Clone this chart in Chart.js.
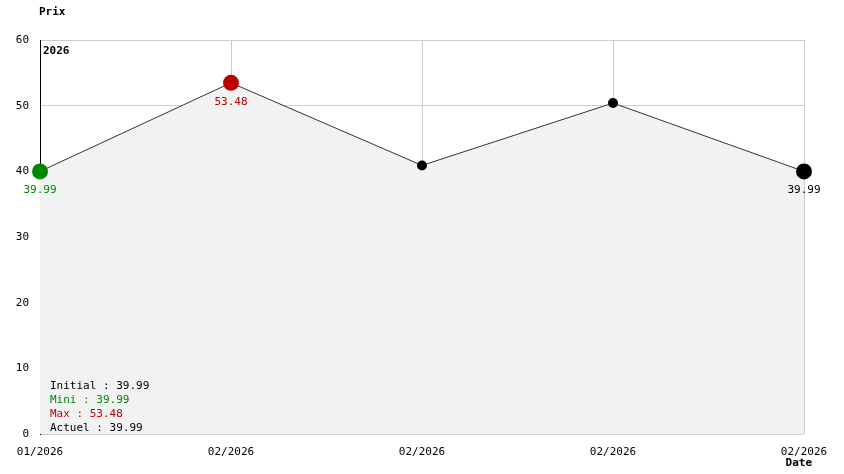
<!DOCTYPE html>
<html>
<head>
<meta charset="utf-8">
<script src="https://cdn.jsdelivr.net/npm/chart.js@4/dist/chart.umd.min.js"></script>
<style>
  html, body { margin: 0; padding: 0; background: #fff; }
  #wrap { width: 844px; height: 474px; }
</style>
</head>
<body>
<div id="wrap"><canvas id="graphPrix"></canvas></div>
<script>
// donnees
const dates = ['01/2026', '02/2026', '02/2026', '02/2026', '02/2026'];
const prix = [39.99, 53.48, 40.9, 50.4, 39.99];
const ticksY = [0, 10, 20, 30, 40, 50, 60];
const resume = [
  ['Initial : 39.99', '#000'],
  ['Mini : 39.99', '#008800'],
  ['Max : 53.48', '#bb0000'],
  ['Actuel : 39.99', '#000']
];

const police = '11px "DejaVu Sans Mono", monospace';
const couleurs = ['#008800', '#bb0000', '#000', '#000', '#000'];
const rayons = [8, 8, 5, 5, 8];
const etiquettes = ['39.99', '53.48', null, null, '39.99'];

const textes = {
  id: 'textes',
  afterDatasetsDraw(chart) {
    const ctx = chart.ctx;
    const meta = chart.getDatasetMeta(0);
    const a = chart.chartArea;
    ctx.save();
    ctx.font = police;
    ctx.textBaseline = 'middle';
    ctx.textAlign = 'center';
    meta.data.forEach((p, i) => {
      if (!etiquettes[i]) return;
      ctx.fillStyle = couleurs[i];
      ctx.fillText(etiquettes[i], p.x, p.y + 19);
    });
    ctx.textAlign = 'left';
    resume.forEach((r, i) => {
      ctx.fillStyle = r[1];
      ctx.fillText(r[0], a.left + 10, a.bottom - 48 + i * 14);
    });
    ctx.fillStyle = '#000';
    ctx.font = 'bold ' + police;
    ctx.fillText('2026', a.left + 3, a.top + 11);
    ctx.fillText('Prix', 39, 12);
    ctx.textAlign = 'right';
    ctx.fillText('Date', 812, 463);
    ctx.restore();
  }
};

new Chart(document.getElementById('graphPrix'), {
  type: 'line',
  data: {
    labels: dates,
    datasets: [{
      data: prix,
      borderColor: '#333',
      borderWidth: 1,
      fill: 'origin',
      backgroundColor: '#f2f2f2',
      tension: 0,
      pointRadius: rayons,
      pointBackgroundColor: couleurs,
      pointBorderColor: couleurs,
      pointBorderWidth: 0
    }]
  },
  options: {
    responsive: true,
    maintainAspectRatio: false,
    animation: false,
    events: [],
    layout: { padding: { top: 40, right: 40, left: 0, bottom: 0 } },
    plugins: { legend: { display: false }, tooltip: { enabled: false } },
    scales: {
      x: {
        offset: false,
        grid: { color: '#cccccc', drawTicks: false },
        border: { display: false },
        ticks: { font: { family: 'DejaVu Sans Mono', size: 11 }, color: '#000', padding: 12, maxRotation: 0, autoSkip: false },
        afterFit(s) { s.height = 40; }
      },
      y: {
        min: 0, max: 60,
        afterBuildTicks(s) { s.ticks = ticksY.map(v => ({ value: v })); },
        grid: { color: '#cccccc', drawTicks: false },
        border: { display: true, color: '#000' },
        ticks: { font: { family: 'DejaVu Sans Mono', size: 11 }, color: '#000', padding: 11 },
        afterFit(s) { s.width = 40; }
      }
    }
  },
  plugins: [textes]
});
</script>
</body>
</html>
